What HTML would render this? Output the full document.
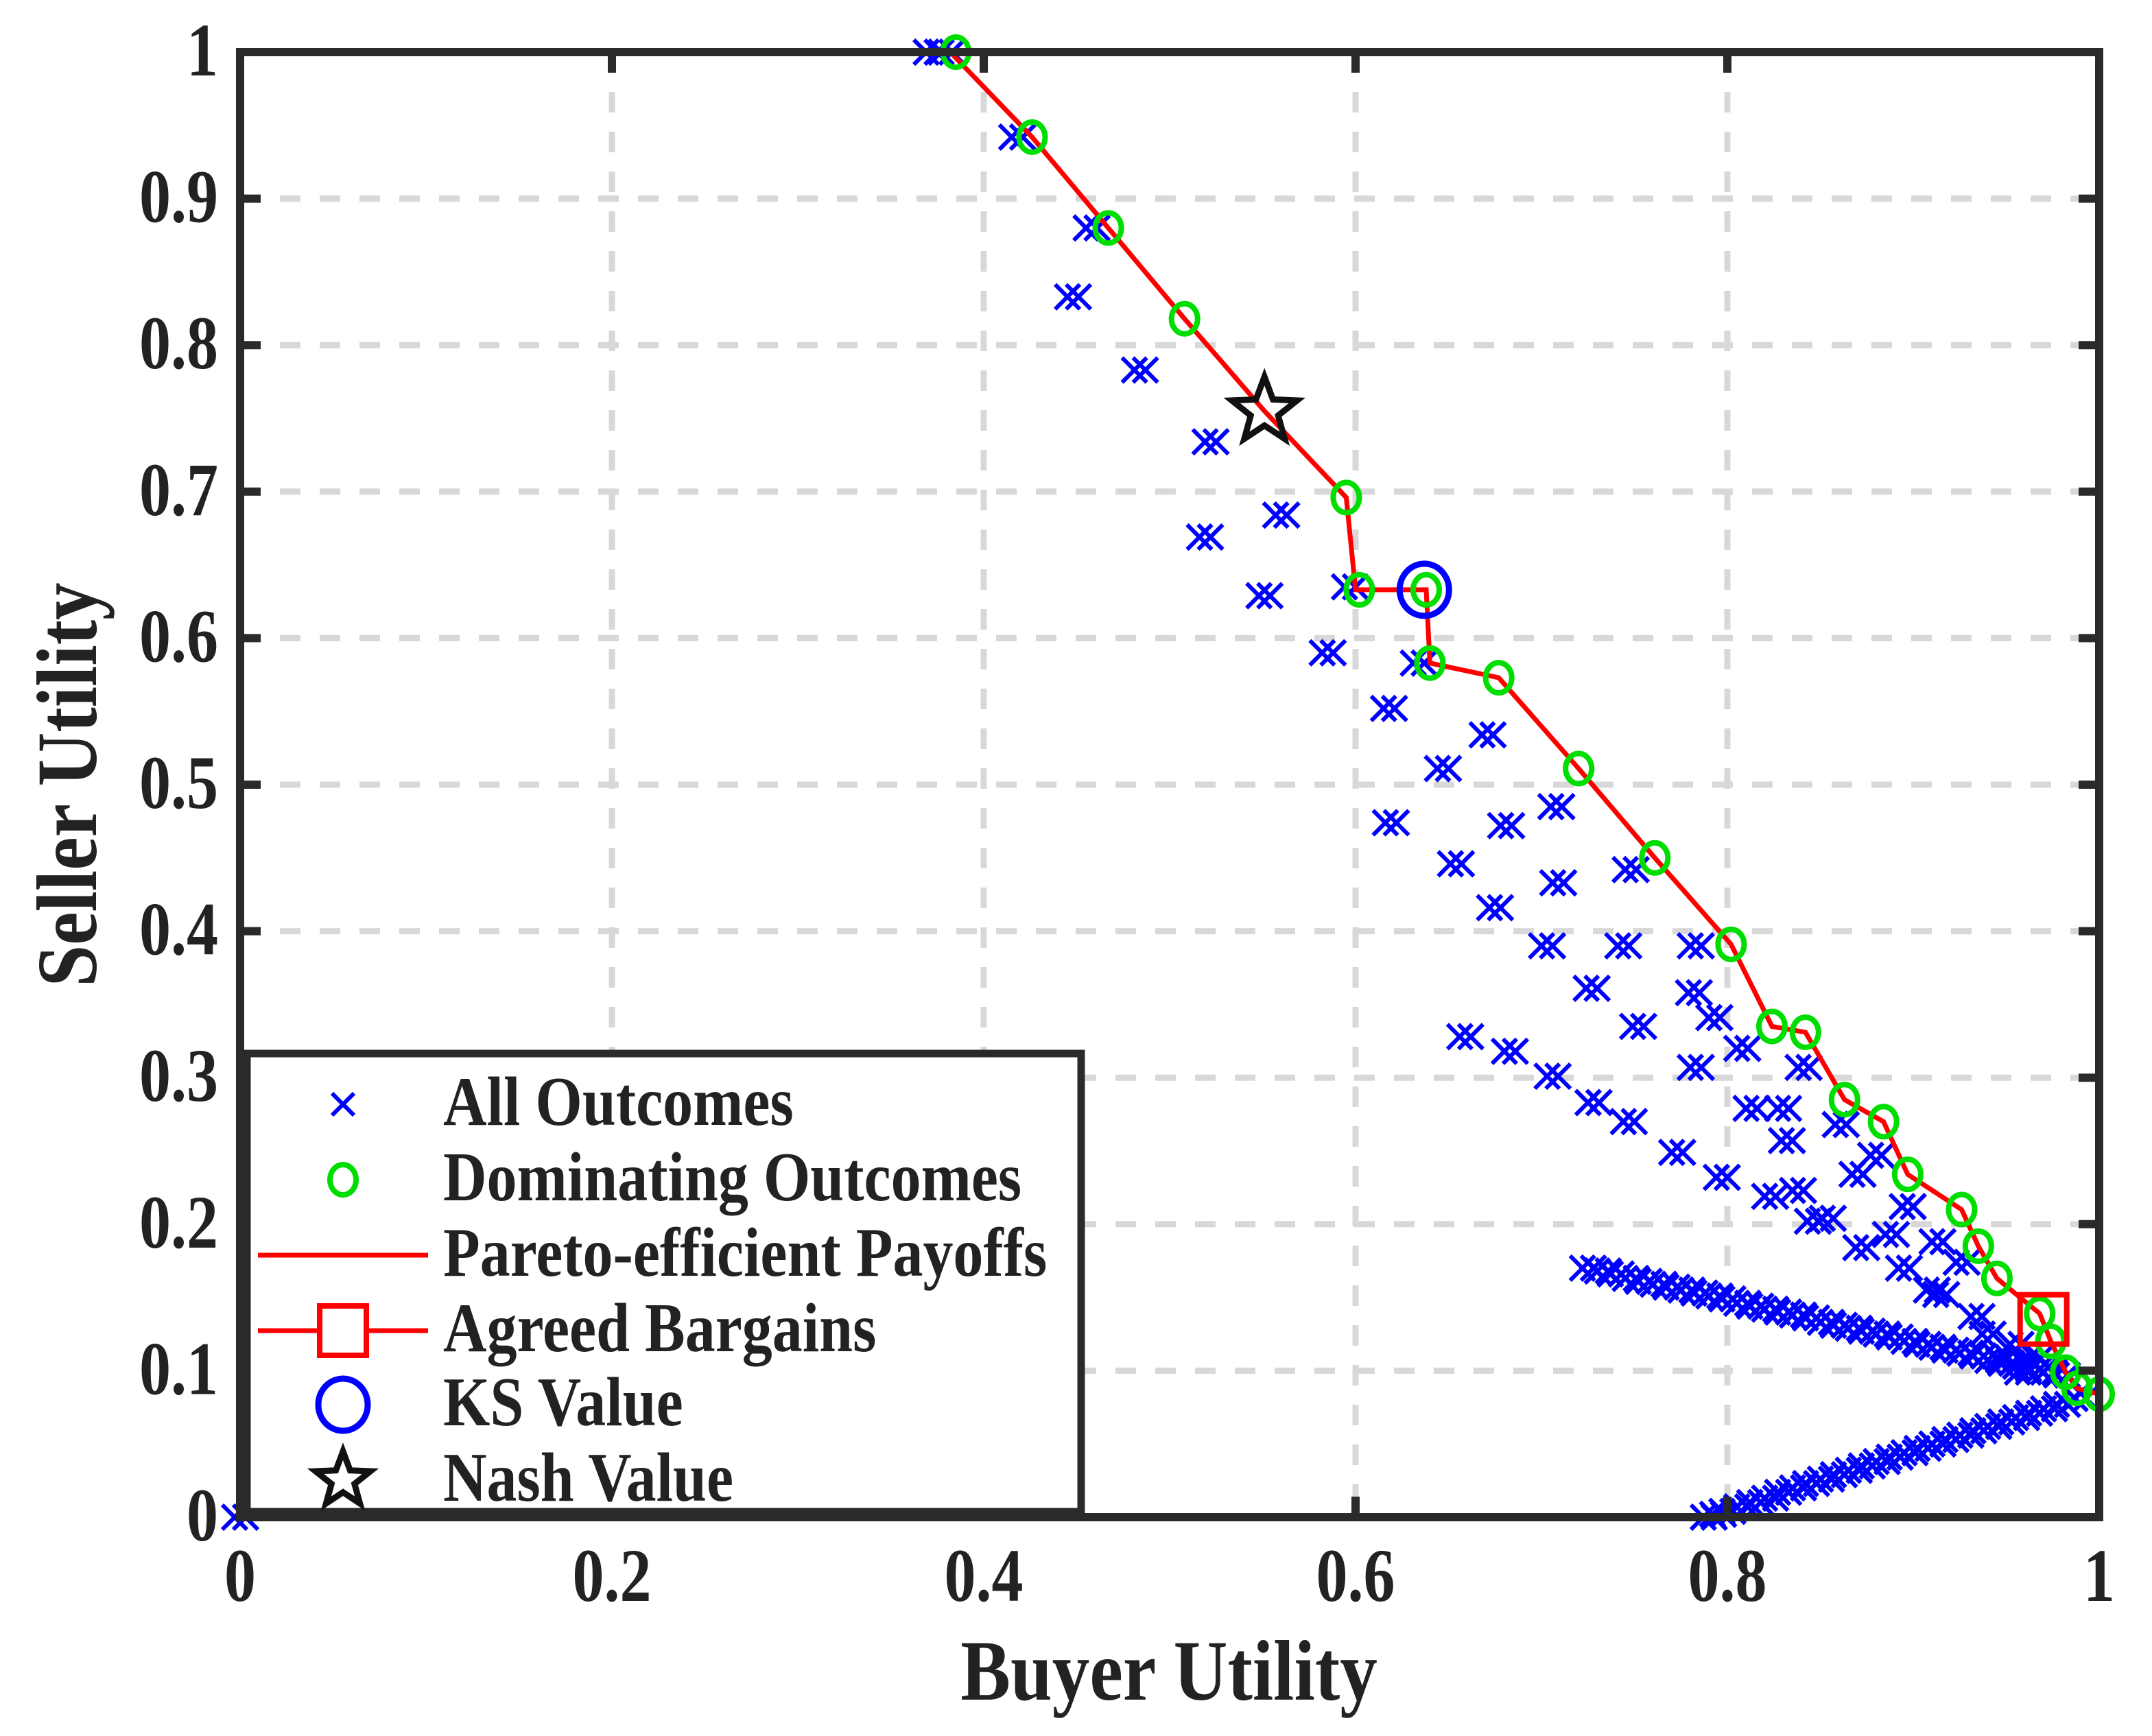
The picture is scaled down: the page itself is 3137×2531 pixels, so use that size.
<!DOCTYPE html>
<html><head><meta charset="utf-8"><style>
html,body{margin:0;padding:0;background:#fff;}
svg{display:block;font-family:"Liberation Serif",serif;font-weight:bold;}
</style></head><body>
<svg id="chart" width="3137" height="2531" viewBox="0 0 3137 2531" xmlns="http://www.w3.org/2000/svg">
<g id="grid"></g>
<g id="marks"></g>
<g id="axes"></g>
<text transform="translate(1704,2478) scale(1.05,1.2)" font-size="104" text-anchor="middle" fill="#222">Buyer Utility</text>
<text transform="translate(140,1144) rotate(-90) scale(1.05,1.2)" font-size="104" text-anchor="middle" fill="#222">Seller Utility</text>
<g id="legend"></g>
</svg>
<script>
const xTicks=[0,0.2,0.4,0.6,0.8,1];
const xTickLabels=["0","0.2","0.4","0.6","0.8","1"];
const yTicks=[0,0.1,0.2,0.3,0.4,0.5,0.6,0.7,0.8,0.9,1];
const yTickLabels=["0","0.1","0.2","0.3","0.4","0.5","0.6","0.7","0.8","0.9","1"];
const allX=[0,0.372,0.38,0.418,0.458,0.448,0.484,0.522,0.519,0.560,0.551,0.597,0.585,0.618,0.619,0.634,0.647,0.654,0.671,0.675,0.659,0.683,0.706,0.728,0.747,0.773,0.797,0.823,0.846,0.872,0.895,0.915,
0.708,0.681,0.709,0.703,0.727,0.744,0.748,0.752,0.783,0.782,0.783,0.808,0.813,0.832,0.841,0.838,0.854,0.870,0.888,0.910,0.926,0.934,0.948,0.959,0.861,0.880,0.897,0.913,0.793,0.830,0.940,0.955,0.965,
0.725,0.733,0.74,0.748,0.755,0.763,0.77,0.778,0.785,0.793,0.80,0.808,0.815,0.823,0.83,0.838,0.845,0.853,0.86,0.868,0.875,0.883,0.89,0.898,0.905,0.913,0.92,0.928,0.935,0.943,0.95,0.958,0.965,0.973,0.98,
0.79,0.795,0.80,0.808,0.815,0.823,0.83,0.838,0.845,0.853,0.86,0.868,0.875,0.883,0.89,0.898,0.905,0.913,0.92,0.928,0.935,0.943,0.95,0.958,0.965,0.973,0.98,0.99];
const allY=[0,1,1,0.942,0.880,0.833,0.783,0.734,0.669,0.684,0.629,0.635,0.590,0.552,0.474,0.583,0.511,0.446,0.534,0.416,0.328,0.318,0.301,0.283,0.270,0.249,0.232,0.219,0.202,0.184,0.170,0.152,
0.485,0.472,0.433,0.390,0.361,0.390,0.442,0.335,0.390,0.358,0.307,0.320,0.279,0.257,0.307,0.223,0.204,0.234,0.193,0.155,0.174,0.137,0.109,0.099,0.268,0.247,0.212,0.188,0.341,0.279,0.125,0.118,0.108,
0.170,0.168,0.166,0.163,0.161,0.159,0.157,0.155,0.153,0.151,0.149,0.146,0.144,0.142,0.140,0.138,0.136,0.133,0.131,0.129,0.127,0.125,0.123,0.120,0.118,0.116,0.114,0.112,0.110,0.107,0.105,0.103,0.101,0.099,0.097,
0.0,0.002,0.004,0.007,0.01,0.013,0.017,0.020,0.023,0.026,0.029,0.032,0.035,0.038,0.041,0.044,0.047,0.050,0.053,0.056,0.059,0.062,0.065,0.068,0.071,0.074,0.077,0.081];
const domX=[0.385,0.426,0.467,0.508,0.595,0.602,0.638,0.640,0.677,0.720,0.761,0.802,0.824,0.842,0.863,0.884,0.897,0.926,0.935,0.945,0.968,0.974,0.982,0.988,1.0];
const domY=[1.0,0.942,0.880,0.818,0.696,0.633,0.633,0.583,0.573,0.511,0.450,0.391,0.335,0.331,0.285,0.270,0.234,0.210,0.185,0.163,0.139,0.120,0.099,0.088,0.084];
const paretoX=[0.382,0.426,0.467,0.508,0.551,0.595,0.600,0.638,0.640,0.677,0.720,0.761,0.802,0.824,0.842,0.863,0.884,0.897,0.926,0.935,0.945,0.968,0.974,0.982,0.988,1.0];
const paretoY=[1.0,0.942,0.880,0.818,0.755,0.696,0.633,0.633,0.583,0.573,0.511,0.450,0.391,0.335,0.331,0.285,0.270,0.234,0.210,0.185,0.163,0.139,0.120,0.099,0.088,0.084];
const ksX=[0.637], ksY=[0.633];
const nashX=[0.551], nashY=[0.755];
const agreedX=[0.970], agreedY=[0.135];
const legendLabels=["All Outcomes","Dominating Outcomes","Pareto-efficient Payoffs","Agreed Bargains","KS Value","Nash Value"];

const NS="http://www.w3.org/2000/svg";
const X0=350,X1=3060,Y0=2212,Y1=76;
const sx=v=>X0+v*(X1-X0), sy=v=>Y0-v*(Y0-Y1);
function mk(tag,attrs,parent){const e=document.createElementNS(NS,tag);for(const k in attrs)e.setAttribute(k,attrs[k]);parent.appendChild(e);return e;}
const grid=document.getElementById('grid'),marks=document.getElementById('marks'),axes=document.getElementById('axes'),leg=document.getElementById('legend');
const gs={stroke:"#d8d8d8","stroke-width":9,"stroke-dasharray":"30,28"};
xTicks.forEach(t=>{if(t>0&&t<1){const l=mk('line',Object.assign({x1:sx(t),x2:sx(t),y1:Y1,y2:Y0},gs),grid);

}});
yTicks.forEach(t=>{if(t>0&&t<1){const l=mk('line',Object.assign({x1:X0,x2:X1,y1:sy(t),y2:sy(t)},gs),grid);

}});
function xmark(cx,cy,s,parent){const g=mk('g',{stroke:"#0000ff","stroke-width":6,fill:"none"},parent);
[-8,8].forEach(o=>{mk('line',{x1:cx+o-s,y1:cy-s,x2:cx+o+s,y2:cy+s},g);mk('line',{x1:cx+o-s,y1:cy+s,x2:cx+o+s,y2:cy-s},g);});return g;}
allX.forEach((v,i)=>{const g=xmark(sx(v),sy(allY[i]),18,marks);

});
const pp=mk('polyline',{points:paretoX.map((v,i)=>sx(v)+','+sy(paretoY[i])).join(' '),fill:"none",stroke:"#ff0000","stroke-width":7},marks);


domX.forEach((v,i)=>{const c=mk('ellipse',{cx:sx(v),cy:sy(domY[i]),rx:19,ry:22,fill:"none",stroke:"#00dd00","stroke-width":8},marks);

});
agreedX.forEach((v,i)=>{const r=mk('rect',{x:sx(v)-34,y:sy(agreedY[i])-36,width:68,height:72,fill:"none",stroke:"#ff0000","stroke-width":8},marks);

});
ksX.forEach((v,i)=>{const c=mk('ellipse',{cx:sx(v),cy:sy(ksY[i]),rx:36,ry:38,fill:"none",stroke:"#0000ff","stroke-width":9},marks);

});
function star(cx,cy,R){const p=[];for(let k=0;k<10;k++){const r=k%2?R*0.42:R;const a=-Math.PI/2+k*Math.PI/5;p.push((cx+r*Math.cos(a))+','+(cy+r*Math.sin(a)));}return p.join(' ');}
nashX.forEach((v,i)=>{const s=mk('polygon',{points:star(sx(v),sy(nashY[i]),50),fill:"none",stroke:"#111","stroke-width":9},marks);

});
const frame=mk('rect',{x:X0,y:Y1,width:X1-X0,height:Y0-Y1,fill:"none",stroke:"#2a2a2a","stroke-width":12},axes);


xTicks.forEach((t,i)=>{mk('line',{x1:sx(t),x2:sx(t),y1:Y0,y2:Y0-30,stroke:"#2a2a2a","stroke-width":12},axes);mk('line',{x1:sx(t),x2:sx(t),y1:Y1,y2:Y1+30,stroke:"#2a2a2a","stroke-width":12},axes);
const tx=mk('text',{transform:`translate(${sx(t)},${Y0+122}) scale(1,1.2)`,"font-size":92,"text-anchor":"middle",fill:"#222"},axes);tx.textContent=xTickLabels[i];

});
yTicks.forEach((t,i)=>{mk('line',{x1:X0,x2:X0+30,y1:sy(t),y2:sy(t),stroke:"#2a2a2a","stroke-width":12},axes);mk('line',{x1:X1,x2:X1-30,y1:sy(t),y2:sy(t),stroke:"#2a2a2a","stroke-width":12},axes);
const tx=mk('text',{transform:`translate(318,${sy(t)+34}) scale(1,1.2)`,"font-size":92,"text-anchor":"end",fill:"#222"},axes);tx.textContent=yTickLabels[i];

});
const lb=mk('rect',{x:360,y:1536,width:1216,height:668,fill:"#fff",stroke:"#2a2a2a","stroke-width":11},leg);


const rows=[1610,1720,1830,1940,2048,2158];
legendLabels.forEach((lab,i)=>{const y=rows[i];
const g=mk('g',{},leg);


if(i===0){mk('line',{x1:484,y1:y-16,x2:516,y2:y+16,stroke:"#0000ff","stroke-width":6},g);mk('line',{x1:484,y1:y+16,x2:516,y2:y-16,stroke:"#0000ff","stroke-width":6},g);}
if(i===1)mk('ellipse',{cx:500,cy:y,rx:19,ry:22,fill:"none",stroke:"#00dd00","stroke-width":8},g);
if(i===2||i===3)mk('line',{x1:376,x2:624,y1:y,y2:y,stroke:"#ff0000","stroke-width":7},g);
if(i===3)mk('rect',{x:466,y:y-36,width:68,height:72,fill:"#fff",stroke:"#ff0000","stroke-width":8},g);
if(i===4)mk('ellipse',{cx:500,cy:y,rx:36,ry:38,fill:"none",stroke:"#0000ff","stroke-width":9},g);
if(i===5)mk('polygon',{points:star(500,y,42),fill:"none",stroke:"#111","stroke-width":9},g);
const t=mk('text',{transform:`translate(646,${y+30}) scale(1,1.15)`,"font-size":88,fill:"#222"},g);t.textContent=lab;});
</script>
</body></html>
